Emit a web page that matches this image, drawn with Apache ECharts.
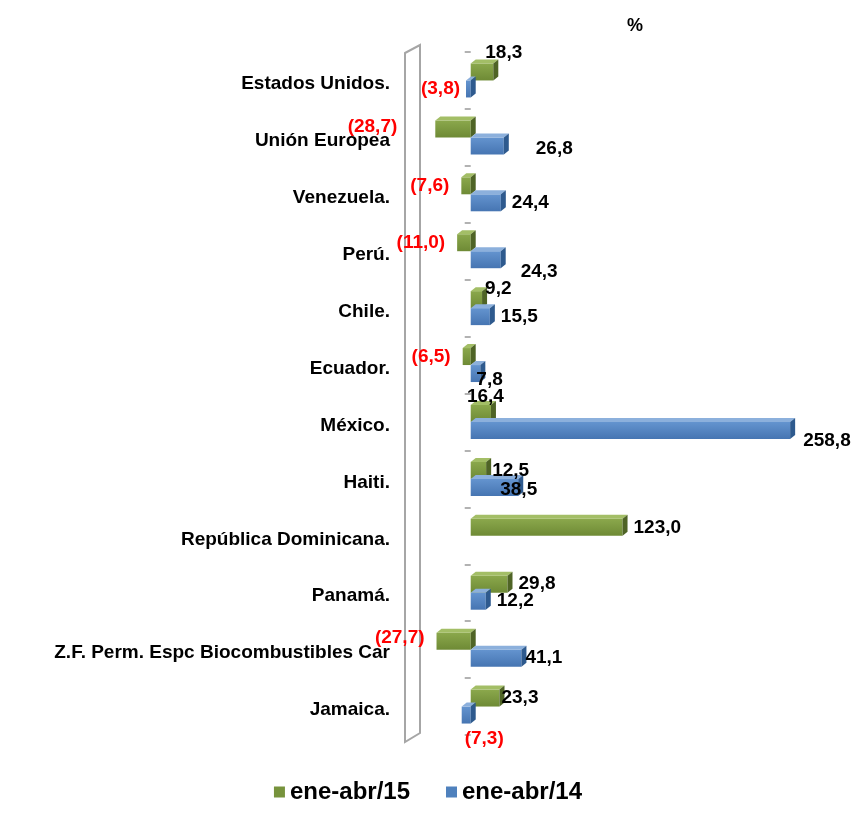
<!DOCTYPE html>
<html>
<head>
<meta charset="UTF-8">
<title>ene-abr</title>
<style>
  html, body { margin: 0; padding: 0; background: #fff; }
  #main { width: 856px; height: 813px; }
</style>
</head>
<body>
<div id="main"></div>
<script src="https://cdn.jsdelivr.net/npm/echarts@6/dist/echarts.min.js"></script>
<script>
// categorias, de arriba hacia abajo
var paises = ['Estados Unidos.', 'Unión Europea', 'Venezuela.', 'Perú.', 'Chile.', 'Ecuador.',
  'México.', 'Haiti.', 'República Dominicana.', 'Panamá.', 'Z.F. Perm. Espc Biocombustibles Car', 'Jamaica.'];
var serie15 = [18.3, -28.7, -7.6, -11.0, 9.2, -6.5, 16.4, 12.5, 123.0, 29.8, -27.7, 23.3];
var serie14 = [-3.8, 26.8, 24.4, 24.3, 15.5, 7.8, 258.8, 38.5, null, 12.2, 41.1, -7.3];
var nombres = ['ene-abr/15', 'ene-abr/14'];

// ajustes de posicion de etiquetas (como las deja Excel)
var labelShift = {
  '0-0': [-19, -19], '0-1': [-32, -2], '0-2': [-6, 0], '0-3': [-6, 0], '0-4': [-8, -11],
  '0-5': [-6, 0], '0-6': [-35, -17], '0-7': [-5, 0], '0-10': [-6, -3], '0-11': [-9, 0],
  '1-1': [21, 3], '1-3': [9, 12], '1-5': [-15, 6], '1-6': [2, 10], '1-7': [-29, 2],
  '1-10': [-7, 0], '1-11': [48, 24]
};

var colores = [
  { front: ['#8BA84C', '#6E8A35'], top: '#A3BE66', side: '#4F6426', legend: '#77933C' },
  { front: ['#6494CF', '#4675B2'], top: '#8CB0DC', side: '#2E5A8E', legend: '#4F81BD' }
];

function fmt(v) {
  var s = Math.abs(v).toFixed(1).replace('.', ',');
  return v < 0 ? '(' + s + ')' : s;
}

function makeRender(si) {
  return function (params, api) {
    var v = api.value(0);
    if (v == null || isNaN(v)) return;
    var ci = api.value(1);
    var p0 = api.coord([0, ci]);
    var p1 = api.coord([v, ci]);
    var band = api.size([0, 1])[1];
    var h = Math.round(band * 0.29);
    var y = si === 0 ? p0[1] - h : p0[1];
    var xL = Math.min(p0[0], p1[0]), xR = Math.max(p0[0], p1[0]);
    var dx = 5, dy = -4;
    var c = colores[si];
    var key = si + '-' + params.dataIndex;
    var sh = labelShift[key] || [0, 0];
    var neg = v < 0;
    var tx = neg ? xL - 6 : xR + dx + 6;
    return {
      type: 'group',
      children: [
        { type: 'rect', shape: { x: xL, y: y, width: xR - xL, height: h },
          style: { fill: new echarts.graphic.LinearGradient(0, 0, 0, 1, [
            { offset: 0, color: c.front[0] }, { offset: 1, color: c.front[1] }]) } },
        { type: 'polygon', shape: { points: [[xL, y], [xL + dx, y + dy], [xR + dx, y + dy], [xR, y]] },
          style: { fill: c.top } },
        { type: 'polygon', shape: { points: [[xR, y], [xR + dx, y + dy], [xR + dx, y + h + dy], [xR, y + h]] },
          style: { fill: c.side } },
        { type: 'text', z2: 10,
          style: { text: fmt(v), x: tx + sh[0], y: y + h / 2 + sh[1],
            align: neg ? 'right' : 'left', verticalAlign: 'middle',
            fill: neg ? '#FF0000' : '#000000',
            font: 'bold 19px "Liberation Sans", Arial, sans-serif' } }
      ]
    };
  };
}

function toData(arr) {
  return arr.map(function (v, i) { return [v, i]; });
}

var myChart = echarts.init(document.getElementById('main'));
myChart.setOption({
  animation: false,
  textStyle: { fontFamily: '"Liberation Sans", Arial, sans-serif' },
  title: {
    text: '%', left: 622, top: 12,
    textStyle: { fontSize: 18, fontWeight: 'bold', color: '#000' }
  },
  legend: {
    bottom: 4, left: 'center',
    icon: 'rect', itemWidth: 11, itemHeight: 11, itemGap: 36,
    textStyle: { fontSize: 24, fontWeight: 'bold', color: '#000' },
    data: nombres
  },
  grid: { left: 409, right: 15, top: 52, bottom: 78, outerBoundsMode: 'none' },
  xAxis: {
    type: 'value', min: -50, max: 300, show: false
  },
  yAxis: [{
    type: 'category', data: paises, inverse: true,
    axisLine: { show: false, onZero: false }, axisTick: { show: false },
    axisLabel: {
      margin: 19, color: '#000',
      formatter: function (v) { return '{p|' + v + '}'; },
      rich: { p: { fontSize: 19, fontWeight: 'bold', color: '#000', padding: [7, 0, 0, 0] } }
    }
  }, {
    type: 'category', data: paises, inverse: true, position: 'left',
    axisLine: { show: false, onZero: true }, axisLabel: { show: false },
    axisTick: { show: true, length: 6, lineStyle: { color: '#999', width: 1.5 } }
  }],
  graphic: [{
    type: 'polygon', silent: true, z: -1,
    shape: { points: [[405, 53], [420, 45], [420, 733], [405, 742]] },
    style: { fill: '#fff', stroke: '#A6A6A6', lineWidth: 2 }
  }],
  series: [{
    name: nombres[0], type: 'custom', renderItem: makeRender(0),
    itemStyle: { color: colores[0].legend },
    encode: { x: 0, y: 1 }, data: toData(serie15)
  }, {
    name: nombres[1], type: 'custom', renderItem: makeRender(1),
    itemStyle: { color: colores[1].legend },
    encode: { x: 0, y: 1 }, data: toData(serie14)
  }]
});
</script>
</body>
</html>
